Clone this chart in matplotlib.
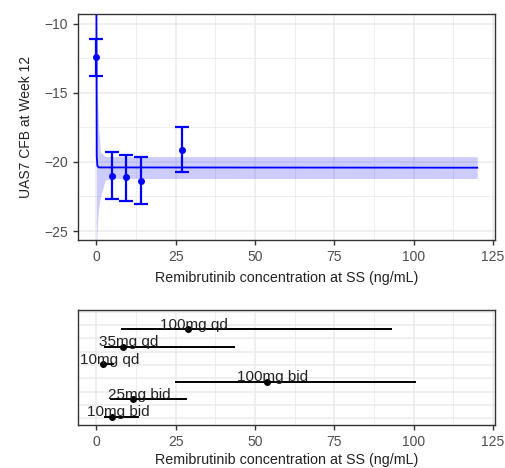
import matplotlib.pyplot as plt
import numpy as np
from matplotlib.ticker import MultipleLocator

plt.rcParams['font.family'] = ['Liberation Sans', 'DejaVu Sans']

# observed means with 95% CI, by concentration bin
obs_conc = [0, 5.0, 9.4, 14.0, 27.1]
obs_mean = [-12.4, -21.0, -21.1, -21.35, -19.13]
obs_lo = [-13.77, -22.68, -22.8, -23.04, -20.75]
obs_hi = [-11.09, -19.3, -19.47, -19.66, -17.46]

# model prediction and band
pred_conc = [0, 0.1, 0.3, 0.8, 120]
pred_mean = [-9.0, -19.6, -20.3, -20.4, -20.42]
band_conc = [0, 0.3, 0.7, 1.3, 2.8, 5, 120]
band_lo = [-27.0, -24.5, -23.3, -22.5, -21.3, -21.2, -21.2]
band_hi = [-9.0, -15.0, -17.5, -19.3, -19.6, -19.62, -19.62]

# exposure ranges by dose
doses = ['10mg bid', '25mg bid', '100mg bid', '10mg qd', '35mg qd', '100mg qd']
dose_min = [2.3, 4.2, 24.7, 1.5, 2.3, 7.6]
dose_med = [4.9, 11.6, 53.6, 2.1, 8.3, 28.8]
dose_max = [13.3, 28.6, 100.8, 5.5, 43.8, 93.1]

blue = '#0000ff'
grid_c = '#ebebeb'
tick_c = '#4d4d4d'

fig = plt.figure(figsize=(5.05, 4.68), dpi=100)
ax1 = fig.add_axes([0.1545, 0.4872, 0.8257, 0.4829])
ax2 = fig.add_axes([0.1545, 0.0919, 0.8257, 0.2457])

for ax in (ax1, ax2):
    ax.set_xlim(-5.8, 125.6)
    ax.xaxis.set_major_locator(MultipleLocator(25))
    ax.xaxis.set_minor_locator(MultipleLocator(12.5))
    ax.grid(True, which='major', color=grid_c, lw=1.1)
    ax.grid(True, which='minor', color=grid_c, lw=0.6)
    ax.set_axisbelow(True)
    for s in ax.spines.values():
        s.set_color('#333333')
        s.set_linewidth(1.0)
    ax.tick_params(which='major', length=3.5, width=1.0, color='#333333',
                   labelsize=10, labelcolor=tick_c)
    ax.tick_params(which='minor', length=0)

ax1.set_xlabel('Remibrutinib concentration at SS (ng/mL)', fontsize=10.3,
               color='#222222', labelpad=5)
ax2.set_xlabel('Remibrutinib concentration at SS (ng/mL)', fontsize=10.3,
               color='#222222', labelpad=3)

# top panel
ax1.set_ylim(-25.65, -9.3)
ax1.yaxis.set_major_locator(MultipleLocator(5))
ax1.yaxis.set_minor_locator(MultipleLocator(2.5))
ax1.set_yticks([-10, -15, -20, -25])
ax1.set_yticklabels(['\u221210', '\u221215', '\u221220', '\u221225'])
ax1.fill_between(band_conc, band_lo, band_hi, color=blue, alpha=0.2, lw=0)
ax1.plot(pred_conc, pred_mean, color=blue, lw=1.3)
mean = np.array(obs_mean)
ax1.errorbar(obs_conc, obs_mean,
             yerr=[mean - np.array(obs_lo), np.array(obs_hi) - mean],
             fmt='o', color=blue, ms=4, elinewidth=1.6, capsize=4.7,
             capthick=1.6)
ax1.set_ylabel('UAS7 CFB at Week 12', fontsize=10, color='#222222',
               labelpad=8)

# bottom panel
rows = np.arange(1, len(doses) + 1)
ax2.set_ylim(0.53, 7.09)
ax2.set_yticks(np.arange(0.91, 7.0, 0.76))
ax2.tick_params(axis='y', which='major', length=0, labelleft=False)
ax2.hlines(rows, dose_min, dose_max, color='black', lw=1.4)
ax2.plot(dose_med, rows, 'o', color='black', ms=4)
for r, name, m in zip(rows, doses, dose_med):
    ax2.text(m + 2, r + 0.02, name, ha='center', va='baseline',
             fontsize=11, color='#222222')

fig.savefig('out.png', dpi=100)
